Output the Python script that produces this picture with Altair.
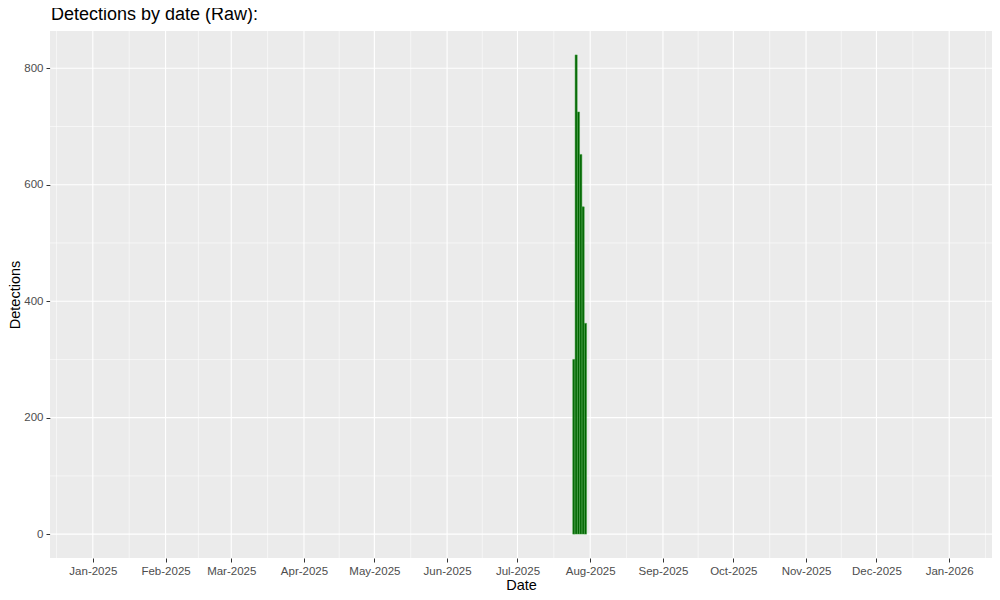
import altair as alt
import pandas as pd

# Data
dates = ["2025-07-25", "2025-07-26", "2025-07-27", "2025-07-28", "2025-07-29", "2025-07-30"]
detections = [300, 823, 725, 652, 562, 362]

month_breaks = ["2025-01-01", "2025-02-01", "2025-03-01", "2025-04-01", "2025-05-01", "2025-06-01",
                "2025-07-01", "2025-08-01", "2025-09-01", "2025-10-01", "2025-11-01", "2025-12-01",
                "2026-01-01"]
y_breaks = [0, 200, 400, 600, 800]
y_minor = [100, 300, 500, 700]

# minor date gridlines: midpoints between month breaks (incl. one before/after)
mb = pd.to_datetime(["2024-12-01"] + month_breaks + ["2026-02-01"], utc=True)
minor = [(mb[i] + (mb[i + 1] - mb[i]) / 2) for i in range(len(mb) - 1)]
minor_ms = [int(m.value // 10**6) for m in minor]

start = pd.Timestamp("2025-01-01", tz="UTC")
end = pd.Timestamp("2026-01-01", tz="UTC")
pad = (end - start) * 0.05
x_domain = [int((start - pad).value // 10**6), int((end + pad).value // 10**6)]
minor_ms = [m for m in minor_ms if x_domain[0] <= m <= x_domain[1]]
major_ms = [int(pd.Timestamp(s, tz="UTC").value // 10**6) for s in month_breaks]
y_domain = [-41, 864]

xscale = alt.Scale(type="utc", domain=x_domain, nice=False)
yscale = alt.Scale(domain=y_domain, nice=False, zero=False)

FONT = "Liberation Sans"
xaxis = alt.Axis(values=major_ms, format="%b-%Y", grid=False, domain=False,
                 tickColor="#333333", tickSize=4, labelPadding=3,
                 labelColor="#4D4D4D", labelFontSize=11.5, labelFont=FONT,
                 titleFont=FONT, titleFontSize=14.5, titleFontWeight="normal",
                 titleColor="black", titlePadding=2, labelOverlap=False, labelFlush=False)
yaxis = alt.Axis(values=y_breaks, grid=False, domain=False,
                 tickColor="#333333", tickSize=4, labelPadding=3,
                 labelColor="#4D4D4D", labelFontSize=11.5, labelFont=FONT,
                 titleFont=FONT, titleFontSize=14.5, titleFontWeight="normal",
                 titleColor="black", titlePadding=1)

bars_df = pd.DataFrame({"date": dates, "detections": detections})
major_df = pd.DataFrame({"m": major_ms})
minor_df = pd.DataFrame({"m": minor_ms})
ymaj_df = pd.DataFrame({"v": y_breaks})
ymin_df = pd.DataFrame({"v": y_minor})

bars = alt.Chart(bars_df).transform_calculate(
    x0="time(toDate(datum.date)) - 0.45*86400000",
    x1="time(toDate(datum.date)) + 0.45*86400000",
).mark_rect(fill="#006400", stroke="#3f9f3f", strokeWidth=0.5).encode(
    x=alt.X("x0:T", scale=xscale, title="Date", axis=xaxis),
    x2="x1:T",
    y=alt.Y("detections:Q", scale=yscale, title="Detections", axis=yaxis),
    y2=alt.Y2(datum=0),
)

grid_minor_x = alt.Chart(minor_df).mark_rule(color="white", strokeWidth=0.55).encode(
    x=alt.X("m:T", scale=xscale, title="Date", axis=xaxis)
)
grid_major_x = alt.Chart(major_df).mark_rule(color="white", strokeWidth=1.1).encode(
    x=alt.X("m:T", scale=xscale, title="Date", axis=xaxis)
)
grid_minor_y = alt.Chart(ymin_df).mark_rule(color="white", strokeWidth=0.55).encode(
    y=alt.Y("v:Q", scale=yscale, title="Detections", axis=yaxis)
)
grid_major_y = alt.Chart(ymaj_df).mark_rule(color="white", strokeWidth=1.1).encode(
    y=alt.Y("v:Q", scale=yscale, title="Detections", axis=yaxis)
)

chart = alt.layer(grid_minor_x, grid_minor_y, grid_major_x, grid_major_y, bars).properties(
    width=942,
    height=527,
    autosize=alt.AutoSizeParams(type="none"),
    padding={"left": 42, "top": 23, "right": 0, "bottom": 34},
    title=alt.TitleParams("Detections by date (Raw):", anchor="start", frame="group",
                          font=FONT, fontSize=18, fontWeight="normal",
                          color="black", offset=6, dx=1),
).configure_view(fill="#EBEBEB", strokeWidth=0)

chart.save("out.html", embed_options={"renderer": "svg", "actions": False})
